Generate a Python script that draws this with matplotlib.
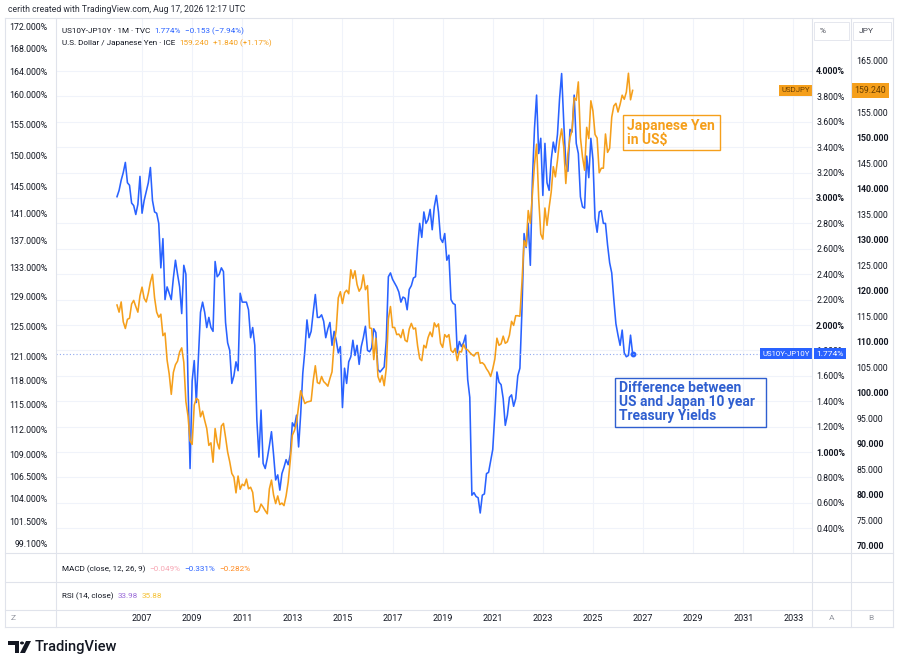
import numpy as np
import matplotlib.pyplot as plt
from matplotlib.lines import Line2D
from matplotlib.patches import Rectangle, Polygon, Circle
from matplotlib.ticker import NullLocator
import matplotlib.transforms as mtransforms

plt.rcParams['font.family'] = ['Roboto', 'DejaVu Sans']

# monthly closes, Jan 2006 .. Aug 2026
start_year = 2006
usdjpy = [
    117.2, 115.8, 117.8, 113.9, 112.6, 114.4, 114.6, 117.4, 118.1, 116.9, 115.8, 119.0,
    120.7, 118.5, 117.8, 119.5, 121.7, 123.2, 118.6, 115.8, 114.8, 115.4, 111.2, 111.7,
    106.4, 103.7, 99.7, 104.0, 105.5, 106.2, 108.0, 108.8, 106.0, 98.3, 95.5, 90.6,
    89.9, 97.6, 98.9, 98.6, 95.3, 96.4, 94.6, 93.0, 89.7, 90.2, 86.4, 93.0,
    90.3, 89.0, 93.5, 94.0, 91.3, 88.4, 86.5, 84.2, 83.5, 80.4, 83.7, 81.1,
    82.1, 81.8, 83.1, 81.2, 81.5, 80.5, 76.8, 76.6, 77.0, 78.2, 77.6, 76.9,
    76.3, 81.2, 82.9, 80.0, 78.3, 79.8, 78.1, 78.4, 77.9, 79.8, 82.5, 86.7,
    91.7, 92.6, 94.2, 97.4, 100.4, 99.1, 97.9, 98.2, 98.3, 98.4, 102.4, 105.3,
    102.0, 101.8, 103.2, 102.2, 101.8, 101.3, 102.8, 104.1, 109.7, 112.3, 118.6, 119.8,
    117.5, 119.6, 120.1, 119.4, 124.1, 122.4, 123.9, 121.2, 119.9, 120.6, 123.1, 120.2,
    121.0, 112.7, 112.6, 106.5, 110.7, 103.2, 102.1, 103.4, 101.4, 104.8, 114.5, 116.9,
    112.8, 112.8, 111.4, 111.5, 110.8, 112.4, 110.3, 110.0, 112.5, 113.6, 112.5, 112.7,
    109.2, 106.7, 106.3, 109.3, 108.8, 110.8, 111.9, 111.0, 113.7, 112.9, 113.5, 109.7,
    108.9, 111.4, 110.9, 111.4, 108.3, 107.9, 108.7, 106.3, 108.1, 108.0, 109.5, 108.6,
    108.4, 107.9, 107.5, 107.2, 107.8, 107.9, 105.8, 105.9, 105.5, 104.7, 104.1, 103.2,
    104.7, 106.6, 110.7, 109.3, 109.6, 111.1, 109.7, 110.0, 111.3, 114.0, 113.2, 115.1,
    115.1, 115.0, 121.7, 129.8, 128.7, 135.7, 133.2, 138.9, 144.7, 148.7, 138.1, 131.1,
    130.1, 136.2, 132.8, 136.3, 139.3, 144.3, 142.3, 145.5, 149.4, 151.7, 148.2, 141.0,
    146.9, 150.0, 151.4, 157.8, 157.3, 160.9, 150.0, 146.2, 143.6, 152.0, 149.8, 157.2,
    155.2, 150.6, 149.9, 143.1, 144.0, 144.0, 150.7, 147.1, 147.9, 154.0, 156.2, 156.7,
    155.0, 156.5, 158.3, 157.5, 158.9, 162.6, 157.4, 159.24,
]
spread = [
    3.01, 3.06, 3.14, 3.20, 3.28, 3.12, 3.10, 2.96, 2.94, 2.87, 2.95, 3.17,
    2.88, 2.98, 3.05, 3.12, 3.24, 2.98, 2.89, 2.88, 2.80, 2.45, 2.68, 2.20,
    2.30, 2.25, 2.20, 2.37, 2.51, 2.40, 2.30, 2.09, 2.47, 2.40, 1.55, 0.87,
    1.56, 1.72, 1.39, 1.75, 2.10, 2.18, 2.10, 1.98, 2.06, 1.98, 1.95, 2.50,
    2.38, 2.40, 2.45, 2.42, 2.02, 1.86, 1.80, 1.54, 1.60, 1.71, 1.64, 2.25,
    2.18, 2.18, 2.18, 2.12, 1.90, 1.98, 1.84, 1.25, 0.96, 1.33, 0.91, 0.87,
    0.95, 1.05, 1.16, 0.98, 0.78, 0.82, 0.70, 0.83, 0.88, 0.94, 0.90, 0.98,
    1.23, 1.20, 1.29, 1.04, 1.30, 1.62, 1.80, 2.04, 1.90, 1.95, 2.10, 2.24,
    2.06, 2.06, 2.08, 2.03, 1.90, 1.97, 2.02, 1.84, 1.95, 1.88, 1.78, 1.83,
    1.35, 1.66, 1.54, 1.71, 1.75, 1.88, 1.76, 1.84, 1.69, 1.83, 1.90, 1.99,
    1.80, 1.79, 1.82, 1.97, 1.94, 1.65, 1.63, 1.65, 1.67, 1.88, 2.38, 2.41,
    2.36, 2.33, 2.30, 2.26, 2.18, 2.22, 2.21, 2.12, 2.28, 2.31, 2.37, 2.38,
    2.61, 2.80, 2.69, 2.89, 2.80, 2.83, 2.91, 2.75, 2.93, 3.02, 2.89, 2.68,
    2.65, 2.72, 2.51, 2.55, 2.20, 2.17, 2.16, 1.78, 1.87, 1.83, 1.86, 1.92,
    1.57, 1.43, 0.66, 0.68, 0.65, 0.64, 0.52, 0.66, 0.67, 0.83, 0.84, 0.93,
    1.02, 1.30, 1.63, 1.55, 1.53, 1.42, 1.21, 1.29, 1.43, 1.45, 1.36, 1.42,
    1.60, 1.66, 2.12, 2.72, 2.61, 2.80, 2.47, 3.14, 3.55, 3.81, 3.35, 3.47,
    3.02, 3.43, 3.12, 3.06, 3.30, 3.44, 3.36, 3.50, 3.78, 3.98, 3.60, 3.27,
    3.21, 3.54, 3.52, 3.81, 3.43, 3.35, 3.01, 2.93, 2.92, 3.33, 3.16, 3.47,
    3.30, 2.84, 2.73, 2.89, 2.90, 2.80, 2.80, 2.63, 2.49, 2.41, 2.20, 2.01,
    1.92, 1.84, 1.96, 1.78, 1.75, 1.76, 1.92, 1.774,
]

year_labels = list(range(2007, 2034, 2))
spread_ticks = [0.4, 0.6, 0.8, 1.0, 1.2, 1.4, 1.6, 1.8, 2.0, 2.2, 2.4, 2.6, 2.8, 3.0,
                3.2, 3.4, 3.6, 3.8, 4.0]
jpy_ticks = list(range(70, 170, 5))
left_ticks = [99.1, 101.5, 104, 106.5, 109, 112, 115, 118, 121, 125, 129, 133, 137,
              141, 145, 150, 155, 160, 164, 168, 172]

BLUE = '#2962ff'
ORANGE = '#f59f1b'
TXT = '#131722'
GRID = '#f0f3fa'
BORDER = '#e0e3eb'

W, H = 902, 669
fig = plt.figure(figsize=(W / 100, H / 100), dpi=100, facecolor='white')


def fx(x):
    return x / W


def fy(y):
    return 1 - y / H


def hline(y, x1=5, x2=893):
    fig.add_artist(Line2D([fx(x1), fx(x2)], [fy(y), fy(y)], transform=fig.transFigure,
                          color=BORDER, lw=0.8))


def vline(x, y1=18, y2=627):
    fig.add_artist(Line2D([fx(x), fx(x)], [fy(y1), fy(y2)], transform=fig.transFigure,
                          color=BORDER, lw=0.8))


L, R, T, B = 56, 812, 18, 553
t = start_year + np.arange(len(spread)) / 12
x_left = start_year + (L - 117) / 25.05
x_right = start_year + (R - 117) / 25.05

# spread pane (main axes)
ax = fig.add_axes([fx(L), fy(B), (R - L) / W, (B - T) / H])
ax.set_xlim(x_left, x_right)
ax.set_ylim(0.205, 4.417)
for s in ax.spines.values():
    s.set_visible(False)
ax.set_axisbelow(True)
ax.set_xticks(year_labels)
ax.tick_params(axis='x', length=0, labelbottom=False)
ax.grid(True, color=GRID, lw=0.8)
ax.plot(t, spread, color=BLUE, lw=1.15)
ax.plot(t[-1], spread[-1], 'o', color=BLUE, ms=3.2)
ax.axhline(spread[-1], color='#8fa8ee', lw=0.8, ls=(0, (1, 2)))

# yen pane
axj = ax.twinx()
axj.set_ylim(68.62, 173.42)
for s in axj.spines.values():
    s.set_visible(False)
axj.set_yticks(jpy_ticks)
axj.set_yticklabels([f'{v:.3f}' for v in jpy_ticks])
axj.tick_params(axis='y', length=0, pad=32, labelsize=6.3, labelcolor=TXT)
for lab, v in zip(axj.get_yticklabels(), jpy_ticks):
    if v % 10 == 0:
        lab.set_fontweight('bold')
axj.plot(t, usdjpy, color=ORANGE, lw=1.15)

# left percent scale
axl = ax.twinx()
axl.set_yscale('log')
axl.set_ylim(98.15, 173.6)
for s in axl.spines.values():
    s.set_visible(False)
axl.yaxis.tick_left()
axl.yaxis.set_minor_locator(NullLocator())
axl.set_yticks(left_ticks)
axl.set_yticklabels([f'{v:.3f}%' for v in left_ticks])
axl.tick_params(axis='y', length=0, pad=6, labelsize=6.3, labelcolor=TXT)

# spread scale on the inner right column (after twinx, which resets it)
ax.yaxis.tick_right()
ax.set_yticks(spread_ticks)
ax.set_yticklabels([f'{v:.3f}%' for v in spread_ticks])
ax.tick_params(axis='y', length=0, pad=3, labelsize=6.3, labelcolor=TXT,
               left=False, labelleft=False, right=True, labelright=True)
for lab, v in zip(ax.get_yticklabels(), spread_ticks):
    if abs(v - round(v)) < 1e-6:
        lab.set_fontweight('bold')

# price labels
bt = mtransforms.blended_transform_factory(ax.transAxes, ax.transData)
ax.text(0.997, spread[-1], 'US10Y-JP10Y', transform=bt, ha='right', va='center',
        color='white', fontsize=5.6, zorder=6, clip_on=False,
        bbox=dict(boxstyle='square,pad=0.3', fc=BLUE, ec='none'))
ax.text(1.0055, spread[-1], f'{spread[-1]:.3f}%', transform=bt, ha='left', va='center',
        color='white', fontsize=6.1, zorder=6, clip_on=False,
        bbox=dict(boxstyle='square,pad=0.3', fc=BLUE, ec='none'))
jt = mtransforms.blended_transform_factory(axj.transAxes, axj.transData)
axj.text(0.997, usdjpy[-1], 'USDJPY', transform=jt, ha='right', va='center',
         color='#6b3f00', fontsize=5.6, zorder=6, clip_on=False,
         bbox=dict(boxstyle='square,pad=0.3', fc=ORANGE, ec='none'))
axj.text(1.0565, usdjpy[-1], f'{usdjpy[-1]:.3f}', transform=jt, ha='left', va='center',
         color='#6b3f00', fontsize=6.3, zorder=6, clip_on=False,
         bbox=dict(boxstyle='square,pad=0.3', fc=ORANGE, ec='none'))

# annotation boxes
fig.add_artist(Rectangle((fx(623), fy(150)), 97 / W, 35 / H, transform=fig.transFigure,
                         fill=False, ec=ORANGE, lw=1.0))
fig.text(fx(627), fy(133), 'Japanese Yen\nin US$', color=ORANGE, fontsize=10,
         fontweight='bold', va='center', ha='left', linespacing=1.0)
fig.add_artist(Rectangle((fx(615), fy(427)), 151 / W, 49 / H, transform=fig.transFigure,
                         fill=False, ec='#2f5fd0', lw=1.0))
fig.text(fx(619), fy(402), 'Difference between\nUS and Japan 10 year\nTreasury Yields',
         color='#2f5fd0', fontsize=10, fontweight='bold', va='center', ha='left',
         linespacing=1.0)

# frame and pane separators
for y in (18, 553, 582, 610, 627):
    hline(y)
for x in (5, 56, 812, 851, 893):
    vline(x)

# scale headers
for x1, x2, s in ((814, 849, '%'), (853, 891, 'JPY')):
    fig.add_artist(Rectangle((fx(x1), fy(40)), (x2 - x1) / W, 18 / H,
                             transform=fig.transFigure, fc='white', ec=BORDER, lw=0.6))
    fig.text(fx(x1 + 6), fy(31), s, fontsize=6, color='#434651', va='center')

# time axis row
tax = fig.add_axes([fx(L), fy(627), (R - L) / W, 17 / H])
tax.set_xlim(x_left, x_right)
tax.axis('off')
for yr in year_labels:
    tax.text(yr, 0.5, str(yr), transform=tax.get_xaxis_transform(), ha='center',
             va='center', fontsize=6.5, color=TXT)
fig.text(fx(13), fy(618), 'Z', fontsize=6, color='#9598a1', ha='center', va='center')
fig.text(fx(832), fy(618), 'A', fontsize=6, color='#9598a1', ha='center', va='center')
fig.text(fx(871), fy(618), 'B', fontsize=6, color='#9598a1', ha='center', va='center')

renderer = fig.canvas.get_renderer()


def chain(items, x, y, size, gap=4):
    for s, c in items:
        txt = fig.text(fx(x), fy(y), s, color=c, fontsize=size, va='center', ha='left')
        x = txt.get_window_extent(renderer=renderer).x1 + gap


fig.text(fx(8), fy(10), 'cerith created with TradingView.com, Aug 17, 2026 12:17 UTC',
         fontsize=6.2, color='#2a2e39', va='center')
chain([('US10Y-JP10Y · 1M · TVC', TXT), ('1.774%', BLUE), ('−0.153 (−7.94%)', BLUE)],
      62, 31, 5.9)
chain([('U.S. Dollar / Japanese Yen · ICE', TXT), ('159.240', ORANGE),
       ('+1.840 (+1.17%)', ORANGE)], 62, 43, 5.9)
chain([('MACD (close, 12, 26, 9)', TXT), ('−0.049%', '#f7a6b3'), ('−0.331%', BLUE),
       ('−0.282%', '#ff8a1f')], 62, 569, 5.9)
chain([('RSI (14, close)', TXT), ('33.98', '#9a6bd8'), ('35.88', '#f5c033')], 62, 596, 5.9)

# logo
fig.add_artist(Polygon([(fx(8), fy(641)), (fx(19), fy(641)), (fx(19), fy(653)),
                        (fx(15), fy(653)), (fx(15), fy(645)), (fx(8), fy(645))],
                       closed=True, transform=fig.transFigure, fc='#131722', ec='none'))
fig.add_artist(Circle((fx(22), fy(643)), 2.0 / W, transform=fig.transFigure,
                      fc='#131722', ec='none'))
fig.add_artist(Polygon([(fx(26), fy(641)), (fx(31), fy(641)), (fx(25), fy(653)),
                        (fx(20), fy(653))], closed=True, transform=fig.transFigure,
                       fc='#131722', ec='none'))
fig.text(fx(35), fy(647), 'TradingView', fontsize=10.5, fontweight='medium',
         color='#131722', va='center')

fig.savefig('out.png', dpi=100, facecolor='white')
